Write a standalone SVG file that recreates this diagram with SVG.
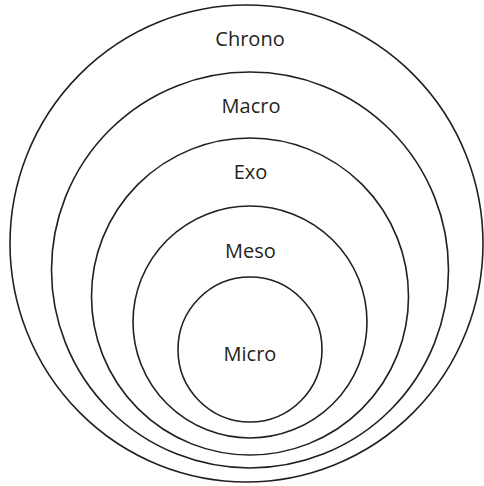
<svg xmlns="http://www.w3.org/2000/svg" width="484" height="486" viewBox="0 0 484 486">
<style>
.ring{fill:none;stroke:#231f20;stroke-width:1.6}
.lbl{font-family:"Open Sans","Liberation Sans",sans-serif;font-size:20px;fill:#231f20;text-anchor:middle}
</style>
<rect width="484" height="486" fill="#fff"/>
<g id="chrono"><ellipse class="ring" cx="246.5" cy="243.5" rx="236.5" ry="238.5"/><text class="lbl" x="250" y="45.5">Chrono</text></g>
<g id="macro"><ellipse class="ring" cx="250" cy="270" rx="198.5" ry="198"/><text class="lbl" x="251" y="113">Macro</text></g>
<g id="exo"><ellipse class="ring" cx="250" cy="296.5" rx="158.5" ry="158.5"/><text class="lbl" x="250.5" y="179">Exo</text></g>
<g id="meso"><ellipse class="ring" cx="250" cy="322" rx="117" ry="116"/><text class="lbl" x="250.5" y="258">Meso</text></g>
<g id="micro"><ellipse class="ring" cx="250" cy="349.5" rx="72" ry="72.5"/><text class="lbl" x="250" y="361">Micro</text></g>
<g id="connectors"/>
</svg>
